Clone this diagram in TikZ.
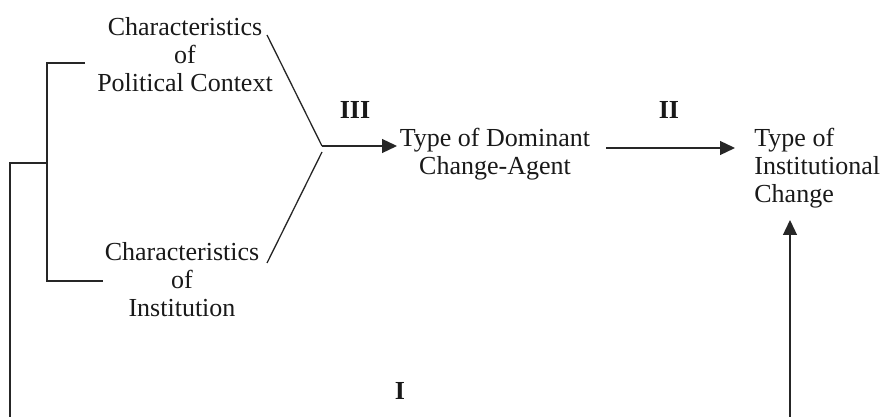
\documentclass[tikz,border=0pt]{standalone}
\usepackage{fontspec}
\setmainfont{Liberation Serif}
\usetikzlibrary{arrows.meta}
\begin{document}
\begin{tikzpicture}[x=0.5pt,y=-0.5pt,
  lbl/.style={font=\fontsize{13}{14.2}\selectfont, inner sep=0pt, align=center, text=black!90},
  lbll/.style={lbl, align=left},
  num/.style={font=\fontsize{13}{14.2}\selectfont\bfseries, inner sep=0pt, text=black!90},
  ln/.style={line width=0.65pt, draw=black!85},
  arr/.style={ln, -{Triangle[length=7.5pt,width=7pt]}}]
\useasboundingbox (0,0) rectangle (880,417);
% text nodes (base anchor = baseline of last line)
\node[lbl, anchor=base] (pol) at (185,92) {Characteristics\\of\\Political Context};
\node[lbl, anchor=base] (ins) at (182,317) {Characteristics\\of\\Institution};
\node[lbl, anchor=base] (agent) at (495,175) {Type of Dominant\\Change-Agent};
\node[lbll, anchor=base west] (change) at (754,203) {Type of\\Institutional\\Change};
\node[num, anchor=base] (l3) at (355,119) {III};
\node[num, anchor=base] (l2) at (669,119) {II};
\node[num, anchor=base] (l1) at (400,400) {I};
% coordinates
\coordinate (j) at (322,146);
\coordinate (j2) at (322,152);
\coordinate (pd) at (267,35);
\coordinate (id) at (267,263);
\coordinate (a3) at (397,146);
\coordinate (a2s) at (606,148);
\coordinate (a2e) at (735,148);
\coordinate (bu) at (85,63);
\coordinate (bl) at (103,281);
\coordinate (bm) at (47,163);
\coordinate (bo) at (10,163);
\coordinate (bb) at (10,417);
\coordinate (ab) at (790,417);
\coordinate (at) at (790,220);
% connectors
\draw[ln] (pd) -- (j);
\draw[ln] (j2) -- (id);
\draw[arr] (j) -- (a3);
\draw[arr] (a2s) -- (a2e);
\draw[ln] (bu) -| (bm) |- (bl);
\draw[ln] (bm) -- (bo) -- (bb);
\draw[arr] (ab) -- (at);
\end{tikzpicture}
\end{document}
